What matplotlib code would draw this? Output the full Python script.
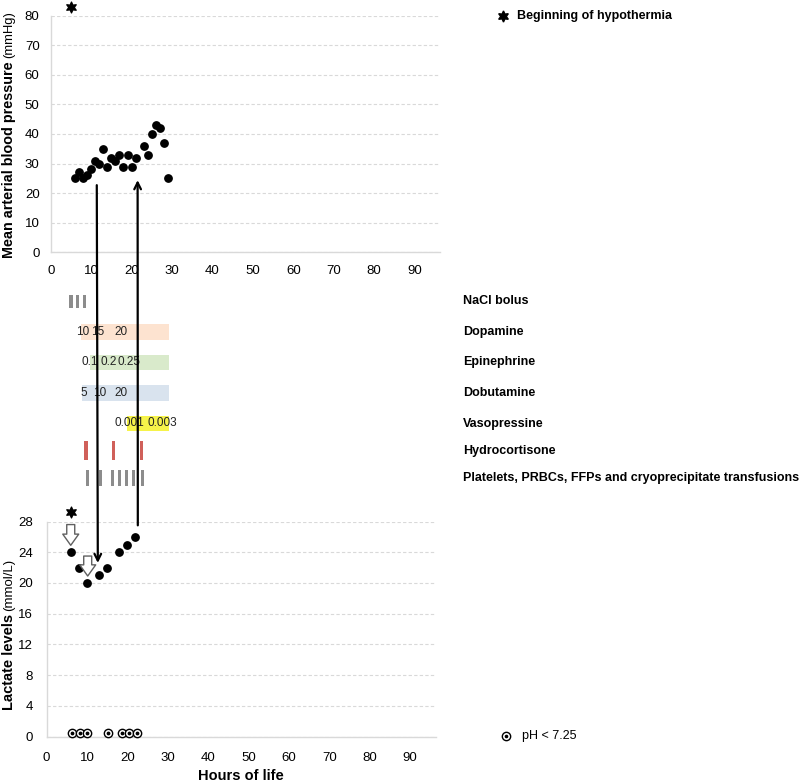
import matplotlib
matplotlib.use('Agg')
import matplotlib.pyplot as plt
from matplotlib.patches import ConnectionPatch
import matplotlib.transforms as mtransforms

plt.rcParams['font.family'] = ['Liberation Sans', 'DejaVu Sans']

# --- data ---
map_hours = [6, 7, 8, 9, 10, 11, 12, 13, 14, 15, 16, 17, 18, 19, 20, 21, 23, 24, 25, 26, 27, 28, 29]
map_values = [25, 27, 25, 26, 28, 31, 30, 35, 29, 32, 31, 33, 29, 33, 29, 32, 36, 33, 40, 43, 42, 37, 25]
map_star = (5, 83)

lact_hours = [6, 8, 10, 13, 15, 18, 20, 22]
lact_values = [24, 22, 20, 21, 22, 24, 25, 26]
lact_star = (6, 29.3)
ph_hours = [6.4, 8.3, 10.1, 15.1, 18.6, 20.5, 22.3]
ph_level = 0.45
hollow_arrows = [(6, 27.6, 24.9), (10.2, 23.5, 20.9)]  # hour, from, to

nacl_hours = [5.0, 6.6, 8.3]
hydro_hours = [8.7, 15.5, 22.4]
transf_hours = [9.2, 12.2, 15.4, 17.1, 18.7, 20.4, 22.7]

drug_names = ['Dopamine', 'Epinephrine', 'Dobutamine', 'Vasopressine']
drug_start = [7.4, 9.7, 7.7, 18.8]
drug_end = [29.3, 29.3, 29.3, 29.3]
drug_colors = ['#fde3d0', '#d9eacb', '#d9e3ee', '#f6f34a']
drug_doses = [
    [(7.9, '10'), (11.6, '15'), (17.4, '20')],
    [(9.6, '0.1'), (14.4, '0.2'), (19.3, '0.25')],
    [(8.3, '5'), (12.0, '10'), (17.4, '20')],
    [(19.5, '0.001'), (27.5, '0.003')],
]

row_labels = ['NaCl bolus', 'Dopamine', 'Epinephrine', 'Dobutamine', 'Vasopressine',
              'Hydrocortisone', 'Platelets, PRBCs, FFPs and cryoprecipitate transfusions']
row_pos = [0, 1, 2, 3, 4, 4.9, 5.8]

W, H = 800, 783
fig = plt.figure(figsize=(8, 7.83), dpi=100)

def px_axes(left, right, top, bottom):
    return fig.add_axes([left / W, 1 - bottom / H, (right - left) / W, (bottom - top) / H])

grid_kw = dict(color='#d9d9d9', lw=0.8, linestyle=(0, (3, 2)))

def style_axis(ax):
    for s in ['top', 'right']:
        ax.spines[s].set_visible(False)
    for s in ['left', 'bottom']:
        ax.spines[s].set_color('#d9d9d9')
        ax.spines[s].set_linewidth(1)
    ax.tick_params(length=0, labelsize=9.5, colors='black')
    ax.grid(axis='y', **grid_kw)
    ax.set_axisbelow(True)

# --- top panel: MAP ---
ax1 = px_axes(50.7, 440, 15.7, 252.3)
style_axis(ax1)
ax1.scatter(map_hours, map_values, s=28, color='black', zorder=3)
ax1.scatter(*map_star, marker=(6, 1, 0), s=60, color='black', clip_on=False, zorder=3)
ax1.set_xlim(0, 96.3)
ax1.set_ylim(0, 80)
ax1.set_xticks(range(0, 100, 10))
ax1.set_yticks(range(0, 90, 10))
ax1.tick_params(axis='x', pad=9)
ax1.tick_params(axis='y', pad=8)

# --- middle: treatments ---
axm = px_axes(50.7, 440, 286.25, 493.65)
axm.set_xlim(0, 96.3)
axm.set_ylim(6.3, -0.5)
axm.axis('off')
for h in nacl_hours:
    axm.bar(h, 0.43, width=0.8, bottom=row_pos[0] - 0.215, color='#8c8c8c')
for i, name in enumerate(drug_names):
    y = row_pos[i + 1]
    axm.barh(y, drug_end[i] - drug_start[i], left=drug_start[i], height=0.52, color=drug_colors[i])
    for h, lab in drug_doses[i]:
        axm.text(h, y, lab, ha='center', va='center', fontsize=8.5, color='#222222')
for h in hydro_hours:
    axm.bar(h, 0.62, width=0.85, bottom=row_pos[5] - 0.31, color='#d0605a')
for h in transf_hours:
    axm.bar(h, 0.52, width=0.75, bottom=row_pos[6] - 0.26, color='#8c8c8c')
lab_tr = mtransforms.blended_transform_factory(fig.transFigure, axm.transData)
for y, name in zip(row_pos, row_labels):
    axm.text(462.7 / W, y, name, transform=lab_tr, ha='left', va='center',
             fontsize=9, fontweight='bold')

# --- bottom panel: lactate ---
ax2 = px_axes(46.5, 436, 521.5, 736.5)
style_axis(ax2)
ax2.scatter(lact_hours, lact_values, s=28, color='black', zorder=3)
ax2.scatter(*lact_star, marker=(6, 1, 0), s=60, color='black', clip_on=False, zorder=3)
ax2.scatter(ph_hours, [ph_level] * len(ph_hours), s=36, facecolor='white',
            edgecolor='black', lw=1.0, zorder=3, clip_on=False)
ax2.scatter(ph_hours, [ph_level] * len(ph_hours), s=3, color='black', zorder=4, clip_on=False)
for h, y0, y1 in hollow_arrows:
    ax2.annotate('', xy=(h, y1), xytext=(h, y0), annotation_clip=False,
                 arrowprops=dict(arrowstyle='simple,head_length=0.7,head_width=1.0,tail_width=0.5',
                                 mutation_scale=11.5, fc='white', ec='#606060', lw=1,
                                 shrinkA=0, shrinkB=0))
ax2.set_xlim(0, 96.4)
ax2.set_ylim(0, 28)
ax2.set_xticks(range(0, 100, 10))
ax2.set_yticks(range(0, 32, 4))
ax2.tick_params(axis='x', pad=11)
ax2.tick_params(axis='y', pad=10)
ax2.set_xlabel('Hours of life', fontsize=10.5, fontweight='bold', labelpad=4)

# --- linking arrows between panels ---
down = ConnectionPatch(xyA=(11.4, 22.7), coordsA=ax1.transData, xyB=(12.7, 22.6), coordsB=ax2.transData,
                       arrowstyle='->', mutation_scale=12, lw=1.6, color='black')
up = ConnectionPatch(xyA=(22.6, 27.5), coordsA=ax2.transData, xyB=(21.5, 24.4), coordsB=ax1.transData,
                     arrowstyle='->', mutation_scale=12, lw=1.6, color='black')
fig.add_artist(down)
fig.add_artist(up)

# --- legend-like notes ---
fig.lines.append(plt.Line2D([503 / W], [1 - 16 / H], marker=(6, 1, 0), ms=8, color='black',
                            transform=fig.transFigure))
fig.text(517 / W, 1 - 16 / H, 'Beginning of hypothermia', fontsize=9, fontweight='bold',
         va='center', ha='left')
fig.lines.append(plt.Line2D([506 / W], [1 - 736 / H], marker='o', ms=6, mfc='white', mec='black',
                            mew=1.0, transform=fig.transFigure))
fig.lines.append(plt.Line2D([506 / W], [1 - 736 / H], marker='o', ms=1.6, color='black',
                            transform=fig.transFigure))
fig.text(522 / W, 1 - 736 / H, 'pH < 7.25', fontsize=9, va='center', ha='left')

# --- y labels with bold + normal parts ---
fig.canvas.draw()
renderer = fig.canvas.get_renderer()

def split_ylabel(bold, normal, x_px, y_bottom_px, size):
    t1 = fig.text(x_px / W, 1 - y_bottom_px / H, bold, rotation=90, fontsize=size,
                  fontweight='bold', ha='center', va='bottom')
    bb = t1.get_window_extent(renderer)
    fig.text(x_px / W, (bb.y1 + 3) / H, normal, rotation=90, fontsize=size - 1,
             ha='center', va='bottom')

split_ylabel('Mean arterial blood pressure', '(mmHg)', 9, 258, 10.4)
split_ylabel('Lactate levels', '(mmol/L)', 9, 710, 10.5)

fig.savefig('out.png', dpi=100)
